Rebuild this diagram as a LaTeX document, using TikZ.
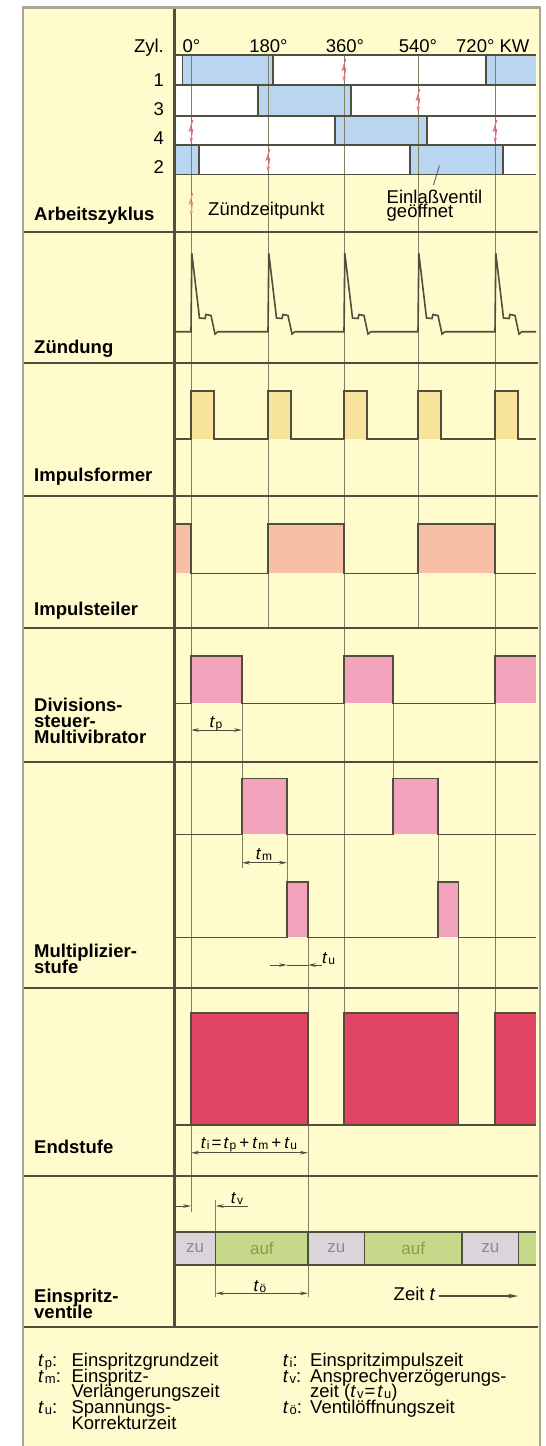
\documentclass[tikz,border=0pt]{standalone}
\usepackage{fontspec}
\setmainfont{Liberation Sans}
\usetikzlibrary{arrows.meta}

\definecolor{cream}{RGB}{255,251,204}
\definecolor{framec}{RGB}{168,166,150}
\definecolor{dark}{RGB}{80,78,60}
\definecolor{gridc}{RGB}{130,128,100}
\definecolor{bluec}{RGB}{185,213,239}
\definecolor{formc}{RGB}{248,228,154}
\definecolor{teilc}{RGB}{247,191,166}
\definecolor{pinkc}{RGB}{243,163,188}
\definecolor{redc}{RGB}{226,68,100}
\definecolor{zuc}{RGB}{217,213,219}
\definecolor{zutext}{RGB}{142,136,154}
\definecolor{aufc}{RGB}{198,216,138}
\definecolor{auftext}{RGB}{138,158,72}
\definecolor{sparkc}{RGB}{232,112,126}
\definecolor{boltc}{RGB}{240,154,112}

\newcommand{\tsym}[1]{\textit{t}\kern0.8pt\raisebox{-1.2pt}{\fontsize{12}{12}\selectfont #1}}
\newcommand{\tleg}[1]{\textit{t}\kern1pt\raisebox{-1.2pt}{\fontsize{13}{13}\selectfont #1}}
\newcommand{\mybolt}[3]{%
  \draw[#3, line width=1.1, -{Stealth[length=4.5,width=3.6]}] (#1+1.8,#2) -- (#1-1.6,#2+11) -- (#1+1.6,#2+9.5) -- (#1-0.3,#2+22);}

\tikzset{
  sect/.style={draw=dark, line width=2.1},
  gridl/.style={draw=gridc, line width=0.8},
  wave/.style={draw=dark, line width=1.6, line join=miter},
  rowl/.style={draw=dark, line width=1.6},
  dimarr/.style={draw=dark, line width=0.9, {Stealth[length=8,width=3.6]}-{Stealth[length=8,width=3.6]}},
  onearr/.style={draw=dark, line width=0.9, -{Stealth[length=8,width=3.6]}},
  lab/.style={font=\fontsize{18.5}{16}\selectfont\bfseries, anchor=base west, inner sep=0},
  txt/.style={font=\fontsize{18.5}{16}\selectfont, inner sep=0, anchor=base west},
  dlab/.style={font=\fontsize{17}{17}\selectfont, inner sep=0, anchor=base},
  bartxt/.style={font=\fontsize{17}{17}\selectfont, inner sep=0},
}

\begin{document}
\begin{tikzpicture}[x=1pt,y=-1pt]
\useasboundingbox (0,0) rectangle (546,1446);
\fill[white] (0,0) rectangle (546,1446);
\fill[cream] (23,7.5) rectangle (540,1450);

% ---------- Arbeitszyklus rows
\fill[white] (174.5,55) rectangle (536,174.5);
\foreach \a/\b/\c/\d in {182.5/273/55/85, 486/536/55/85, 258/351/85/116, 335/427/116/145, 174.5/199/145/174.5, 410/503/145/174.5}
  \fill[bluec] (\a,\c) rectangle (\b,\d);

% ---------- pulse fills
\foreach \a in {191,268,344,418,495} \fill[formc] (\a,390.7) rectangle ++(23,48.3);
\fill[teilc] (174.5,524) rectangle (191,573.3);
\fill[teilc] (268,524) rectangle (344,573.3);
\fill[teilc] (418,524) rectangle (495,573.3);
\fill[pinkc] (191,656) rectangle (242,703.3);
\fill[pinkc] (344,656) rectangle (393,703.3);
\fill[pinkc] (495,656) rectangle (536,703.3);
\fill[pinkc] (242,778.3) rectangle (287,834.3);
\fill[pinkc] (393,778.3) rectangle (438,834.3);
\fill[pinkc] (287,881.7) rectangle (308,937.3);
\fill[pinkc] (438,881.7) rectangle (458.6,937.3);
\fill[redc] (191,1012.7) rectangle (308,1125);
\fill[redc] (344,1012.7) rectangle (458.6,1125);
\fill[redc] (495,1012.7) rectangle (536,1125);
\fill[zuc] (174.5,1231.7) rectangle (215.7,1265);
\fill[aufc] (215.7,1231.7) rectangle (308,1265);
\fill[zuc] (308,1231.7) rectangle (364.6,1265);
\fill[aufc] (364.6,1231.7) rectangle (462,1265);
\fill[zuc] (462,1231.7) rectangle (518.8,1265);
\fill[aufc] (518.8,1231.7) rectangle (536,1265);

% ---------- grid / extension lines
\draw[gridl] (191,55) -- (191,1212);
\draw[gridl] (268,55) -- (268,628.3);
\draw[gridl] (418,55) -- (418,628.3);
\draw[gridl] (344,55) -- (344,1125);
\draw[gridl] (495,55) -- (495,1125);
\draw[gridl] (242,656) -- (242,868);
\draw[gridl] (287,778.3) -- (287,937.3);
\draw[gridl] (308,881.7) -- (308,1297);
\draw[gridl] (393,656) -- (393,834.3);
\draw[gridl] (438,778.3) -- (438,937.3);
\draw[gridl] (458.6,881.7) -- (458.6,1125);
\draw[gridl] (215.7,1200) -- (215.7,1297);

% ---------- cylinder row lines and segment edges
\foreach \y in {55,85,116,145,174.5} \draw[rowl] (174.5,\y) -- (536,\y);
\foreach \a/\c/\d in {182.5/55/85, 273/55/85, 486/55/85, 258/85/116, 351/85/116, 335/116/145, 427/116/145, 199/145/174.5, 410/145/174.5, 503/145/174.5}
  \draw[rowl, line width=1.4] (\a,\c) -- (\a,\d);

% sparks
\mybolt{344}{59}{sparkc}
\mybolt{418}{89}{sparkc}
\mybolt{191}{120}{sparkc}
\mybolt{495}{120}{sparkc}
\mybolt{268}{149}{sparkc}
\mybolt{191}{193}{boltc}

% pointer to open intake valve
\coordinate (ptA) at (439.4,165.7);
\coordinate (ptB) at (433.5,185);
\draw[dark, line width=0.8] (ptA) -- (ptB);

% ---------- waveforms
\draw[wave] (174.5,331.7) \foreach \x in {191,268,344,418,495} {
  -- (\x,331.7) -- (\x+0.8,253.3) -- (\x+8.5,318) -- (\x+14,318.5) -- (\x+15,314.5) -- (\x+20,315.5) -- (\x+24,334) -- (\x+27,331.7)} -- (536,331.7);
\draw[wave] (174.5,439) \foreach \x in {191,268,344,418,495} {
  -- (\x,439) -- (\x,390.7) -- (\x+23,390.7) -- (\x+23,439)} -- (536,439);
\draw[wave] (174.5,524) -- (191,524) -- (191,573.3) -- (268,573.3) -- (268,524) -- (344,524) -- (344,573.3) -- (418,573.3) -- (418,524) -- (495,524) -- (495,573.3) -- (536,573.3);
\draw[wave] (174.5,703.3) -- (191,703.3) -- (191,656) -- (242,656) -- (242,703.3) -- (344,703.3) -- (344,656) -- (393,656) -- (393,703.3) -- (495,703.3) -- (495,656) -- (536,656);
\draw[wave] (174.5,834.3) -- (242,834.3) -- (242,778.3) -- (287,778.3) -- (287,834.3) -- (393,834.3) -- (393,778.3) -- (438,778.3) -- (438,834.3) -- (536,834.3);
\draw[wave] (174.5,937.3) -- (287,937.3) -- (287,881.7) -- (308,881.7) -- (308,937.3) -- (438,937.3) -- (438,881.7) -- (458.6,881.7) -- (458.6,937.3) -- (536,937.3);
\draw[wave] (174.5,1125) -- (536,1125);
\draw[wave] (191,1125) -- (191,1012.7) -- (308,1012.7) -- (308,1125);
\draw[wave] (344,1125) -- (344,1012.7) -- (458.6,1012.7) -- (458.6,1125);
\draw[wave] (495,1125) -- (495,1012.7) -- (536,1012.7);

% zu/auf bar
\draw[rowl] (174.5,1231.7) -- (536,1231.7);
\draw[rowl] (174.5,1265) -- (536,1265);
\foreach \x in {215.7,308,364.6,462,518.8} \draw[rowl, line width=1.3] (\x,1231.7) -- (\x,1265);

% ---------- section dividers and frame
\foreach \y in {232,363.3,496,628.3,761.7,988.3,1175.7,1326.7} \draw[sect] (23,\y) -- (538,\y);
\draw[sect] (174.5,7.5) -- (174.5,1326.7);
\draw[framec, line width=2.2] (23,1450) -- (23,7.5) -- (540,7.5) -- (540,1450);

% ---------- dimensions
\draw[dimarr] (191,730) -- (242,730);
\draw[dimarr] (242,862.7) -- (287,862.7);
\draw[onearr] (270,965) -- (287,965);
\draw[onearr] (322,965) -- (308,965);
\draw[dark, line width=0.9] (287,965) -- (308,965);
\draw[dimarr] (191,1152.7) -- (308,1152.7);
\draw[onearr] (176,1206) -- (191,1206);
\draw[onearr] (248,1206) -- (215.7,1206);
\draw[dimarr] (215.7,1293.3) -- (308,1293.3);
\coordinate (zeitA) at (439,1296);
\coordinate (zeitB) at (518,1296);
\draw[draw=dark, line width=1.1, -{Stealth[length=10,width=4.5]}] (zeitA) -- (zeitB);

% ---------- texts: header
\node[txt, anchor=base east] (zyl) at (164,52) {Zyl.};
\node[txt, anchor=base] (d0) at (191.5,52) {0°};
\node[txt, anchor=base] (d180) at (268.5,52) {180°};
\node[txt, anchor=base] (d360) at (345,52) {360°};
\node[txt, anchor=base] (d540) at (418,52) {540°};
\node[txt] (d720) at (456,52) {720° KW};
\node[txt, anchor=base east] (c1) at (164,86.6) {1};
\node[txt, anchor=base east] (c3) at (164,115.6) {3};
\node[txt, anchor=base east] (c4) at (164,144.6) {4};
\node[txt, anchor=base east] (c2) at (164,173.6) {2};
\node[txt] (zzp) at (208,215.5) {Zündzeitpunkt};
\node[txt] (ev1) at (386.5,203.5) {Einlaßventil};
\node[txt] (ev2) at (386.5,217.5) {geöffnet};

% section labels
\node[lab] (l1) at (34,220) {Arbeitszyklus};
\node[lab] (l2) at (34,353) {Zündung};
\node[lab] (l3) at (34,481) {Impulsformer};
\node[lab] (l4) at (34,615) {Impulsteiler};
\node[lab] (l5a) at (34,711) {Divisions-};
\node[lab] (l5b) at (34,727) {steuer-};
\node[lab] (l5c) at (34,743) {Multivibrator};
\node[lab] (l6a) at (34,957) {Multiplizier-};
\node[lab] (l6b) at (34,973) {stufe};
\node[lab] (l7) at (34,1153) {Endstufe};
\node[lab] (l8a) at (34,1302) {Einspritz-};
\node[lab] (l8b) at (34,1318) {ventile};

% dimension labels
\node[dlab] (ltp) at (216,727) {\tsym{p}};
\node[dlab] (ltm) at (264,859) {\tsym{m}};
\node[dlab, anchor=base west] (ltu) at (322,963) {\tsym{u}};
\node[dlab] (lti) at (249,1148) {\tsym{i}\kern2pt=\kern2pt\tsym{p}\kern3pt+\kern3pt\tsym{m}\kern3pt+\kern3pt\tsym{u}};
\node[dlab] (ltv) at (237,1203) {\tsym{v}};
\node[dlab] (lto) at (260,1291.7) {\tsym{ö}};
\node[txt] (zeit) at (393.5,1300) {Zeit \textit{t}};

% bar texts
\node[bartxt, text=zutext] (zu1) at (195.1,1248) {zu};
\node[bartxt, text=auftext] (auf1) at (261.9,1248) {auf};
\node[bartxt, text=zutext] (zu2) at (336.3,1248) {zu};
\node[bartxt, text=auftext] (auf2) at (413.3,1248) {auf};
\node[bartxt, text=zutext] (zu3) at (490.4,1248) {zu};

% ---------- legend
\node[txt] (k1) at (38,1366) {\tleg{p}:};
\node[txt] (v1) at (71.4,1366) {Einspritzgrundzeit};
\node[txt] (k2) at (38,1382) {\tleg{m}:};
\node[txt] (v2) at (71.4,1382) {Einspritz-};
\node[txt] (v2b) at (71.4,1397) {Verlängerungszeit};
\node[txt] (k3) at (38,1413) {\tleg{u}:};
\node[txt] (v3) at (71.4,1413) {Spannungs-};
\node[txt] (v3b) at (71.4,1429) {Korrekturzeit};
\node[txt] (k4) at (282.7,1366) {\tleg{i}:};
\node[txt] (v4) at (310,1366) {Einspritzimpulszeit};
\node[txt] (k5) at (282.7,1382) {\tleg{v}:};
\node[txt] (v5) at (310,1382) {Ansprechverzögerungs-};
\node[txt] (v5b) at (310,1397.5) {zeit (\tleg{v}\kern1pt=\kern2pt\tleg{u})};
\node[txt] (k6) at (282.7,1413) {\tleg{ö}:};
\node[txt] (v6) at (310,1413) {Ventilöffnungszeit};
\end{tikzpicture}
\end{document}
